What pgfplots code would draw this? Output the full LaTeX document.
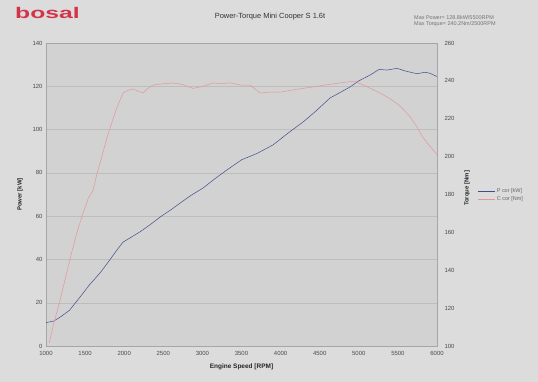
\documentclass[border=0pt]{standalone}
\usepackage{pgfplots}
\pgfplotsset{compat=1.18}
\usepackage{fontspec}
\setmainfont{Liberation Sans}
\definecolor{pagebg}{HTML}{DCDCDC}
\definecolor{plotbg}{HTML}{D2D2D2}
\definecolor{gridc}{HTML}{BDBDBD}
\definecolor{pblue}{HTML}{3F4E8C}
\definecolor{cpink}{HTML}{E6959A}
\definecolor{logored}{HTML}{D3344A}
\definecolor{txt}{HTML}{4A4A4A}
\begin{document}
\begin{tikzpicture}
\fill[pagebg] (0bp,0bp) rectangle (538bp,382bp);
\path[use as bounding box] (0bp,0bp) rectangle (538bp,382bp);
\node[anchor=base west,text=logored,inner sep=0pt] at (15bp,363bp) {\scalebox{1.6}[1]{\fontsize{15.5}{16}\selectfont\bfseries bosal}};
\node[text=black!80,font=\fontsize{7.5}{8}\selectfont,inner sep=0pt] at (270bp,365bp) {Power-Torque Mini Cooper S 1.6t};
\node[anchor=west,text=black!55,font=\fontsize{5.5}{6.5}\selectfont,inner sep=0pt,align=left] at (414bp,361bp) {Max Power= 128.8kW/5500RPM\\Max Torque= 240.2Nm/2500RPM};
\begin{axis}[
  at={(46bp,36bp)}, anchor=south west,
  scale only axis, width=391bp, height=303bp,
  xmin=1000, xmax=6000, ymin=0, ymax=140,
  xtick={1000,1500,...,6000}, ytick={0,20,...,140},
  axis background/.style={fill=plotbg},
  axis line style={gray!70, line width=0.3pt},
  tick style={draw=none},
  ymajorgrids, grid style={gridc, line width=0.4pt},
  /pgf/number format/assume math mode=true,
  /pgf/number format/1000 sep={},
  ticklabel style={font=\fontsize{6}{7}\selectfont, text=txt},
  xticklabel style={yshift=-2bp},
  xlabel={Engine Speed [RPM]},
  xlabel style={font=\fontsize{6.5}{7}\selectfont\bfseries, text=black!85, at={(axis description cs:0.5,-0.07)}, anchor=center},
  ylabel={Power [kW]},
  ylabel style={font=\fontsize{6}{7}\selectfont\bfseries, text=black!85, at={(axis description cs:-0.066,0.5)}, anchor=center},
]
\addplot[pblue, line width=0.5pt] coordinates {
(1000,10.8) (1100,11.5) (1200,13.8) (1300,16.5) (1435,22.6) (1550,28) (1690,33.7)
(1800,39) (1900,44) (1985,48) (2100,50.5) (2200,52.7) (2330,56) (2460,59.6)
(2600,63) (2714,66) (2850,69.5) (3008,73) (3150,77) (3300,81) (3500,86)
(3700,89) (3903,92.9) (4100,98.5) (4287,103.5) (4450,108.5) (4632,114.6)
(4780,117.5) (4888,119.7) (5000,122.5) (5144,125.2) (5260,127.8) (5361,127.5)
(5490,128.3) (5600,127) (5745,125.8) (5850,126.5) (5910,126) (6000,124.5)
};
\end{axis}
\begin{axis}[
  at={(46bp,36bp)}, anchor=south west,
  scale only axis, width=391bp, height=303bp,
  xmin=1000, xmax=6000, ymin=100, ymax=260,
  ytick={100,120,...,260},
  axis x line=none, axis y line*=right,
  axis line style={gray!70, line width=0.3pt},
  tick style={draw=none},
  /pgf/number format/assume math mode=true,
  ticklabel style={font=\fontsize{6}{7}\selectfont, text=txt},
  yticklabel style={xshift=4bp},
  ylabel={Torque [Nm]},
  ylabel style={font=\fontsize{6}{7}\selectfont\bfseries, text=black!85, at={(axis description cs:1.077,0.52)}, anchor=center},
  legend style={draw=none, fill=none, at={(axis description cs:1.095,0.535)}, anchor=north west, font=\fontsize{5.5}{6.5}\selectfont, text=black!60, row sep=-1pt},
  legend cell align=left,
]
\addlegendimage{pblue, line width=0.5pt}
\addlegendentry{P cor [kW]}
\addplot[cpink, line width=0.5pt] coordinates {
(1040,101.5) (1100,112) (1179,124) (1260,138) (1345,152) (1410,162) (1473,170)
(1540,178) (1600,182) (1652,191) (1700,198) (1780,210) (1850,219) (1908,226)
(1985,233.6) (2050,235) (2113,235.7) (2180,234.5) (2240,233.6) (2300,236)
(2368,237.8) (2500,238.5) (2624,238.9) (2750,238) (2880,236) (3000,237)
(3136,238.9) (3250,238.5) (3353,239) (3481,237.8) (3609,237.8) (3737,233.6)
(3850,234) (3993,234) (4200,235.5) (4415,236.8) (4600,238) (4850,239.4)
(4950,239.8) (5055,237.8) (5150,236) (5273,233.6) (5380,231) (5490,228)
(5570,225) (5656,221) (5740,216) (5822,210) (5900,206) (6000,201)
};
\addlegendentry{C cor [Nm]}
\end{axis}
\end{tikzpicture}
\end{document}
